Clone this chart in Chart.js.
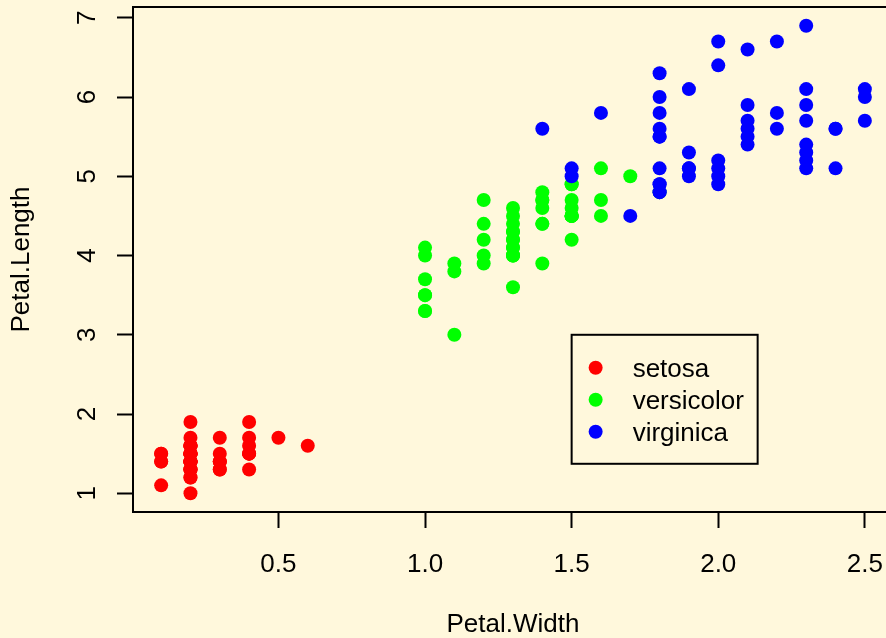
<!DOCTYPE html>
<html>
<head>
<meta charset="utf-8">
<script src="https://cdn.jsdelivr.net/npm/chart.js@4/dist/chart.umd.min.js"></script>
<style>
  html, body { margin: 0; padding: 0; background: #FFF8DC; overflow: hidden; }
  #wrap { width: 900px; height: 638px; }
</style>
</head>
<body>
<div id="wrap"><canvas id="myChart" width="900" height="638"></canvas></div>
<script>
// iris: Petal.Width / Petal.Length per species
const setosaWidth = [0.2,0.2,0.2,0.2,0.2,0.4,0.3,0.2,0.2,0.1,0.2,0.2,0.1,0.1,0.2,0.4,0.4,0.3,0.3,0.3,0.2,0.4,0.2,0.5,0.2,0.2,0.4,0.2,0.2,0.2,0.2,0.4,0.1,0.2,0.2,0.2,0.2,0.1,0.2,0.2,0.3,0.3,0.2,0.6,0.4,0.3,0.2,0.2,0.2,0.2];
const setosaLength = [1.4,1.4,1.3,1.5,1.4,1.7,1.4,1.5,1.4,1.5,1.5,1.6,1.4,1.1,1.2,1.5,1.3,1.4,1.7,1.5,1.7,1.5,1.0,1.7,1.9,1.6,1.6,1.5,1.4,1.6,1.6,1.5,1.5,1.4,1.5,1.2,1.3,1.4,1.3,1.5,1.3,1.3,1.3,1.6,1.9,1.4,1.6,1.4,1.5,1.4];

const versicolorWidth = [1.4,1.5,1.5,1.3,1.5,1.3,1.6,1.0,1.3,1.4,1.0,1.5,1.0,1.4,1.3,1.4,1.5,1.0,1.5,1.1,1.8,1.3,1.5,1.2,1.3,1.4,1.4,1.7,1.5,1.0,1.1,1.0,1.2,1.6,1.5,1.6,1.5,1.3,1.3,1.3,1.2,1.4,1.2,1.0,1.3,1.2,1.3,1.3,1.1,1.3];
const versicolorLength = [4.7,4.5,4.9,4.0,4.6,4.5,4.7,3.3,4.6,3.9,3.5,4.2,4.0,4.7,3.6,4.4,4.5,4.1,4.5,3.9,4.8,4.0,4.9,4.7,4.3,4.4,4.8,5.0,4.5,3.5,3.8,3.7,3.9,5.1,4.5,4.5,4.7,4.4,4.1,4.0,4.4,4.6,4.0,3.3,4.2,4.2,4.2,4.3,3.0,4.1];

const virginicaWidth = [2.5,1.9,2.1,1.8,2.2,2.1,1.7,1.8,1.8,2.5,2.0,1.9,2.1,2.0,2.4,2.3,1.8,2.2,2.3,1.5,2.3,2.0,2.0,1.8,2.1,1.8,1.8,1.8,2.1,1.6,1.9,2.0,2.2,1.5,1.4,2.3,2.4,1.8,1.8,2.1,2.4,2.3,1.9,2.3,2.5,2.3,1.9,2.0,2.3,1.8];
const virginicaLength = [6.0,5.1,5.9,5.6,5.8,6.6,4.5,6.3,5.8,6.1,5.1,5.3,5.5,5.0,5.1,5.3,5.5,6.7,6.9,5.0,5.7,4.9,6.7,4.9,5.7,6.0,4.8,4.9,5.6,5.8,6.1,6.4,5.6,5.1,5.6,6.1,5.6,5.5,4.8,5.4,5.6,5.1,5.1,5.9,5.7,5.2,5.0,5.2,5.4,5.1];

const speciesNames = ['setosa', 'versicolor', 'virginica'];
const speciesColors = ['#FF0000', '#00FF00', '#0000FF'];

const xTicks = [0.5, 1.0, 1.5, 2.0, 2.5];
const yTicks = [1, 2, 3, 4, 5, 6, 7];

const legendAt = { x: 1.5, y: 3 };

function toPoints(xs, ys) {
    return xs.map((x, i) => ({ x: x, y: ys[i] }));
}

const FONT = "'Liberation Sans', Arial, sans-serif";

// R style box around the plot, rotated y labels and the legend
const rStyle = {
    id: 'rStyle',
    afterDraw(chart) {
        const ctx = chart.ctx;
        const a = chart.chartArea;
        const xs = chart.scales.x;
        const ys = chart.scales.y;
        ctx.save();
        ctx.strokeStyle = '#000';
        ctx.lineWidth = 2;
        ctx.strokeRect(a.left, a.top, a.right - a.left, a.bottom - a.top);

        ctx.fillStyle = '#000';
        ctx.font = '26px ' + FONT;
        ctx.textAlign = 'center';
        ctx.textBaseline = 'alphabetic';
        ys.ticks.forEach(t => {
            const py = ys.getPixelForValue(t.value);
            ctx.save();
            ctx.translate(95, py);
            ctx.rotate(-Math.PI / 2);
            ctx.fillText(String(t.value), 0, 0);
            ctx.restore();
        });

        // legend
        const lx = xs.getPixelForValue(legendAt.x);
        const ly = ys.getPixelForValue(legendAt.y);
        ctx.lineWidth = 2;
        ctx.strokeRect(lx, ly, 186, 129);
        ctx.textAlign = 'left';
        chart.data.datasets.slice().sort((p, q) => p.idx - q.idx).forEach((ds, i) => {
            const cy = ly + 33 + i * 32;
            ctx.fillStyle = ds.backgroundColor;
            ctx.beginPath();
            ctx.arc(lx + 24, cy, 7, 0, Math.PI * 2);
            ctx.fill();
            ctx.fillStyle = '#000';
            ctx.fillText(ds.label, lx + 61, cy + 9);
        });
        ctx.restore();
    }
};

const datasets = [
    { idx: 0, label: speciesNames[0], data: toPoints(setosaWidth, setosaLength), order: 3 },
    { idx: 1, label: speciesNames[1], data: toPoints(versicolorWidth, versicolorLength), order: 2 },
    { idx: 2, label: speciesNames[2], data: toPoints(virginicaWidth, virginicaLength), order: 1 }
].map(d => Object.assign(d, {
    backgroundColor: speciesColors[d.idx],
    borderWidth: 0,
    pointRadius: 7,
    pointHoverRadius: 7
}));

const ctx = document.getElementById('myChart').getContext('2d');
new Chart(ctx, {
    type: 'scatter',
    data: { datasets: datasets },
    options: {
        responsive: false,
        animation: false,
        layout: { padding: { left: 0, right: 6, top: 6, bottom: 0 } },
        plugins: {
            legend: { display: false },
            tooltip: { enabled: false }
        },
        scales: {
            x: {
                type: 'linear',
                min: 0.004,
                max: 2.596,
                afterBuildTicks: s => { s.ticks = xTicks.map(v => ({ value: v })); },
                afterFit: s => { s.height = 126; s.paddingLeft = 0; s.paddingRight = 0; },
                border: { display: false },
                grid: {
                    drawOnChartArea: false,
                    drawTicks: true,
                    tickLength: 16,
                    tickColor: '#000',
                    tickWidth: 2
                },
                ticks: {
                    color: '#000',
                    font: { family: FONT, size: 26 },
                    padding: 21,
                    maxRotation: 0,
                    callback: v => v.toFixed(1)
                },
                title: {
                    display: true,
                    text: 'Petal.Width',
                    color: '#000',
                    font: { family: FONT, size: 26, lineHeight: 1 },
                    padding: { top: 0, bottom: 0 }
                }
            },
            y: {
                type: 'linear',
                min: 0.764,
                max: 7.136,
                afterBuildTicks: s => { s.ticks = yTicks.map(v => ({ value: v })); },
                afterFit: s => { s.width = 133; s.paddingTop = 0; s.paddingBottom = 0; },
                border: { display: false },
                grid: {
                    drawOnChartArea: false,
                    drawTicks: true,
                    tickLength: 16,
                    tickColor: '#000',
                    tickWidth: 2
                },
                ticks: { display: false },
                title: {
                    display: true,
                    text: 'Petal.Length',
                    color: '#000',
                    font: { family: FONT, size: 26, lineHeight: 1 },
                    padding: { top: 9, bottom: 0 }
                }
            }
        }
    },
    plugins: [rStyle]
});
</script>
</body>
</html>
